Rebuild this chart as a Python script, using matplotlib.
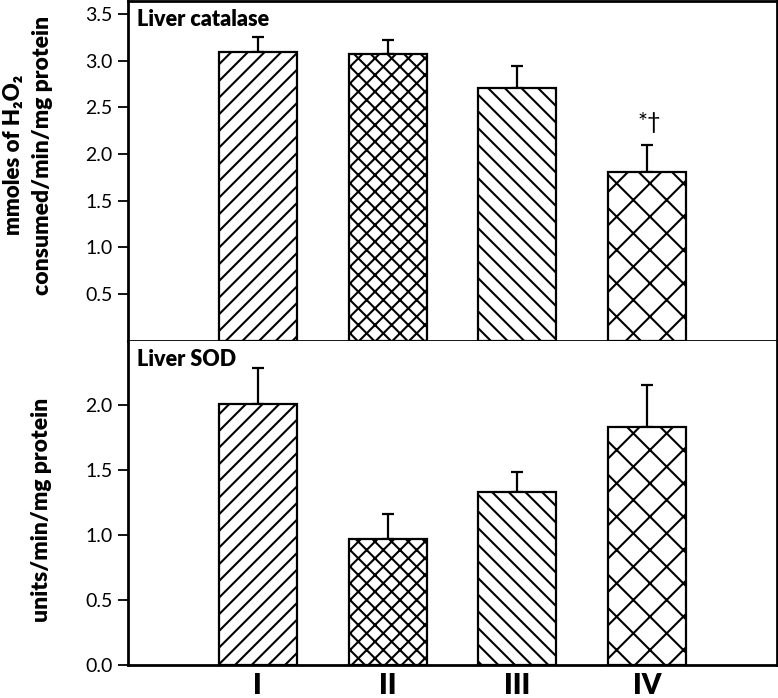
import numpy as np
import matplotlib
matplotlib.use("Agg")
import matplotlib.pyplot as plt

plt.rcParams['font.family'] = ['Lato', 'DejaVu Sans']
plt.rcParams['hatch.linewidth'] = 1.5

groups = ['I', 'II', 'III', 'IV']
hatches = ['//', 'xx', '\\\\', 'x']

catalase = [3.09, 3.07, 2.71, 1.81]
catalase_err = [0.16, 0.15, 0.23, 0.29]

sod = [2.01, 0.97, 1.33, 1.83]
sod_err = [0.28, 0.19, 0.16, 0.33]

fig = plt.figure(figsize=(7.78, 6.98), dpi=100)
W, H = 778, 698
ax1 = fig.add_axes([128 / W, 1 - 340.5 / H, 649 / W, 339.5 / H])
ax2 = fig.add_axes([128 / W, 1 - 665 / H, 649 / W, 324.5 / H])

x = np.arange(1, 5)


def draw_panel(ax, vals, errs, title):
    ax.bar(x, vals, width=0.6, color='white', edgecolor='black',
           linewidth=1.6, hatch=hatches, zorder=2)
    ax.errorbar(x, vals, yerr=[np.zeros(4), errs], fmt='none',
                ecolor='black', elinewidth=1.6, capsize=4.5, capthick=1.6,
                zorder=1)
    ax.set_xlim(0, 5)
    for s in ax.spines.values():
        s.set_linewidth(2)
    ax.tick_params(axis='y', direction='out', length=7, width=1.3,
                   labelsize=14, pad=4)
    ax.text(0.014, 0.975, title, transform=ax.transAxes, ha='left',
            va='top', fontsize=15.5, fontweight='heavy')


draw_panel(ax1, catalase, catalase_err, 'Liver catalase')
ax1.set_ylim(0, 3.64)
ax1.set_yticks([0.5, 1.0, 1.5, 2.0, 2.5, 3.0, 3.5])
ax1.set_xticks([])
ax1.text(4.02, catalase[3] + catalase_err[3] + 0.24, '*\u2020', ha='center',
         va='center', fontsize=17)

draw_panel(ax2, sod, sod_err, 'Liver SOD')
ax2.set_ylim(0, 2.5)
ax2.set_yticks([0.0, 0.5, 1.0, 1.5, 2.0])
ax2.set_xticks(x)
ax2.set_xticklabels(groups, fontsize=20, fontweight='heavy')
ax2.tick_params(axis='x', length=0, pad=6)
ax2.spines['top'].set_visible(False)

fig.text(14 / W, 1 - 155 / H, 'mmoles of H\u2082O\u2082', rotation=90,
         ha='center', va='center', fontsize=16, fontweight='heavy')
fig.text(43 / W, 1 - 155 / H, 'consumed/min/mg protein', rotation=90,
         ha='center', va='center', fontsize=16.5, fontweight='heavy')
fig.text(42 / W, 1 - 510 / H, 'units/min/mg protein', rotation=90,
         ha='center', va='center', fontsize=16.5, fontweight='heavy')

fig.savefig('out.png', dpi=100)
